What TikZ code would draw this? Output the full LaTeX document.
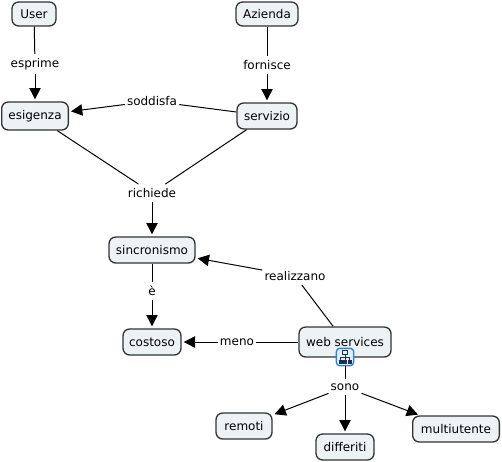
\documentclass[tikz,border=0pt]{standalone}
\usepackage{fontspec}
\setmainfont{DejaVu Sans}
\usetikzlibrary{arrows.meta}
\definecolor{nodefill}{HTML}{EDF3F5}
\definecolor{nodeline}{HTML}{333333}
\definecolor{iconblue}{HTML}{2F7FE0}
\definecolor{iconfill}{HTML}{E4EEF8}
\definecolor{iconnavy}{HTML}{1F2F50}
\begin{document}
\begin{tikzpicture}[
  concept/.style={draw=nodeline, fill=nodefill, line width=1pt, rounded corners=5pt, align=center, inner sep=0pt, font=\fontsize{9}{11}\selectfont},
  link/.style={align=center, inner xsep=1.5pt, inner ysep=3pt, font=\fontsize{9}{11}\selectfont},
  arrow/.style={-{Triangle[length=8.5pt,width=8.5pt]}, line width=0.75pt, shorten >=1.5pt},
  plain/.style={line width=0.75pt},
  tree/.style={line width=0.5pt, draw=iconnavy},
  x=0.75pt, y=-0.75pt
]
\useasboundingbox (0,0) rectangle (502,461);
\node[concept, minimum width=33pt, minimum height=18pt] (user) at (34,14) {User};
\node[concept, minimum width=46.5pt, minimum height=18pt] (azienda) at (267,14) {Azienda};
\node[concept, minimum width=50pt, minimum height=21pt] (esigenza) at (35,116) {esigenza};
\node[concept, minimum width=45pt, minimum height=19.5pt] (servizio) at (267,116) {servizio};
\node[concept, minimum width=64.5pt, minimum height=19.5pt] (sincronismo) at (152,250) {sincronismo};
\node[concept, minimum width=43.5pt, minimum height=19.5pt] (costoso) at (152,342) {costoso};
\node[concept, minimum width=69pt, minimum height=22.5pt] (web) at (345,342) {web services};
\node[concept, minimum width=42pt, minimum height=19.5pt] (remoti) at (244,426) {remoti};
\node[concept, minimum width=43.5pt, minimum height=19.5pt] (differiti) at (345,447) {differiti};
\node[concept, minimum width=65pt, minimum height=19.5pt] (multiutente) at (456,429) {multiutente};
\node[link] (esprime) at (35,64) {esprime};
\node[link] (fornisce) at (267,65) {fornisce};
\node[link] (soddisfa) at (152,101) {soddisfa};
\node[link] (richiede) at (152,193) {richiede};
\node[link] (e) at (152,291) {è};
\node[link] (realizzano) at (295,276) {realizzano};
\node[link] (meno) at (237,342) {meno};
\node[link] (sono) at (345,387) {sono};
\node[draw=iconblue, fill=iconfill, line width=1pt, rounded corners=2.5pt, minimum size=13pt, inner sep=0pt] (icon) at (345,357) {};
% small tree inside the icon
\draw[tree, fill=iconfill] (342.5,350.5) rectangle (347.5,354.5);
\draw[tree] (345,354.5) -- (345,360) (340.5,360) -- (340.5,357.5) -- (349.5,357.5) -- (349.5,360);
\draw[tree, fill=iconnavy] (339,360) rectangle (342,363.5) (343.5,360) rectangle (346.5,363.5) (348,360) rectangle (351,363.5);
\draw[plain] (user) -- (esprime);
\draw[arrow] (esprime) -- (esigenza);
\draw[plain] (azienda) -- (fornisce);
\draw[arrow] (fornisce) -- (servizio);
\draw[plain] (servizio) -- (soddisfa);
\draw[arrow] (soddisfa) -- (esigenza);
\draw[plain] (esigenza) -- (richiede);
\draw[plain] (servizio) -- (richiede);
\draw[arrow] (richiede) -- (sincronismo);
\draw[plain] (sincronismo) -- (e);
\draw[arrow] (e) -- (costoso);
\draw[plain] (web) -- (realizzano);
\draw[arrow] (realizzano) -- (sincronismo);
\draw[plain] (web) -- (meno);
\draw[arrow] (meno) -- (costoso);
\draw[plain] (icon) -- (sono);
\draw[arrow] (sono) -- (remoti);
\draw[arrow] (sono) -- (differiti);
\draw[arrow] (sono) -- (multiutente);
\end{tikzpicture}
\end{document}
